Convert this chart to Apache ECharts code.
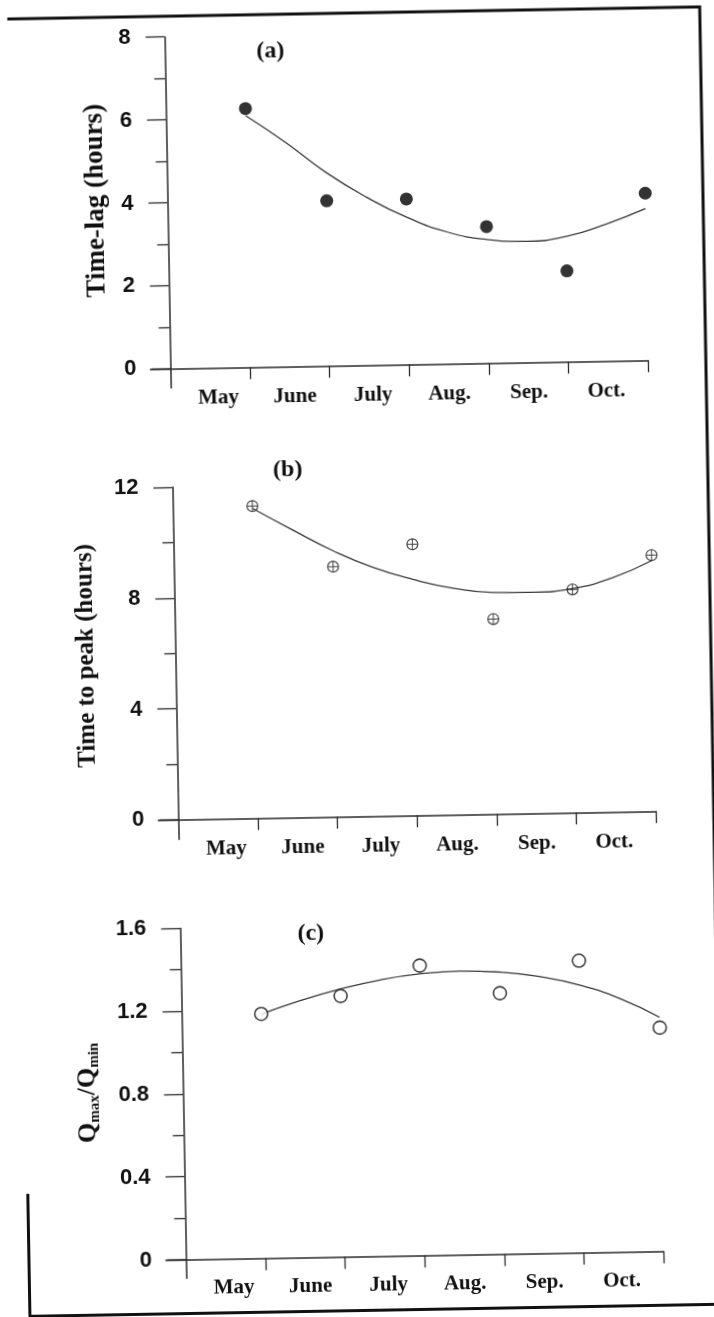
<!DOCTYPE html>
<html><head><meta charset="utf-8">
<script src="https://cdn.jsdelivr.net/npm/echarts@6/dist/echarts.min.js"></script>
<style>
html,body{margin:0;padding:0;background:#fff;overflow:hidden}
#c{width:714px;height:1317px;transform:rotate(-1deg);transform-origin:357px 658.5px;}
</style>
</head><body><div id="c"></div>
<script>
// ---- data ----
const months = ['May', 'June', 'July', 'Aug.', 'Sep.', 'Oct.'];
const monthLabelPos = [0.6, 1.56, 2.54, 3.5, 4.5, 5.47];
const monthTicks = [1, 2, 3, 4, 5, 6];
const fitX = [1, 1.5, 2, 2.5, 3, 3.5, 4, 4.5, 5, 5.5, 6];

const timeLag = [6.24, 3.98, 3.99, 3.29, 2.19, 4.03];
const timeLagFit = [6.07, 5.40, 4.66, 4.05, 3.55, 3.18, 2.98, 2.92, 3.02, 3.30, 3.66];
const timeLagTicks = [0, 2, 4, 6, 8];
const timeLagMinor = [1, 3, 5, 7];

const timeToPeak = [11.27, 9.03, 9.79, 7.04, 8.06, 9.25];
const timeToPeakFit = [11.19, 10.38, 9.61, 8.98, 8.52, 8.18, 8.00, 7.98, 8.09, 8.45, 9.05];
const timeToPeakTicks = [0, 4, 8, 12];
const timeToPeakMinor = [2, 6, 10];

const qRatio = [1.18, 1.26, 1.40, 1.26, 1.41, 1.08];
const qRatioFit = [1.179, 1.242, 1.294, 1.334, 1.360, 1.370, 1.362, 1.337, 1.293, 1.225, 1.13];
const qRatioTicks = [0, 0.4, 0.8, 1.2, 1.6];
const qRatioMinor = [0.2, 0.6, 1.0, 1.4];

// ---- styles / layout ----
const AX = '#2a2a2a';
const SANS = 'Liberation Sans';
const SERIF = 'Liberation Serif';
const GRID_LEFT = 155.5, GRID_W = 497.8;
const panels = [
  {top: 33.7, h: 351.1, min: -0.47, max: 8, ticks: timeLagTicks, minor: timeLagMinor,
   name: '{sp| }{t|Time-lag (hours)}', sp: 26, tSize: 27, gap: 38, vals: timeLag, fit: timeLagFit},
  {top: 484.1, h: 352.1, min: -0.72, max: 12, ticks: timeToPeakTicks, minor: timeToPeakMinor,
   name: '{sp| }{t|Time to peak (hours)}', sp: 18, tSize: 25, gap: 56, vals: timeToPeak, fit: timeToPeakFit},
  {top: 925.2, h: 350, min: -0.09, max: 1.6, ticks: qRatioTicks, minor: qRatioMinor,
   name: '{sp| }{q|Q}{s|max}{q|/Q}{s|min}', sp: 24, tSize: 26, gap: 61, vals: qRatio, fit: qRatioFit}
];

const plusCircle = 'path://M0,-10 A10,10 0 1 1 0,10 A10,10 0 1 1 0,-10 Z ' +
  'M0,-8.1 A8.1,8.1 0 1 0 0,8.1 A8.1,8.1 0 1 0 0,-8.1 Z ' +
  'M-8.4,-0.8 L8.4,-0.8 L8.4,0.8 L-8.4,0.8 Z M-0.8,-8.4 L0.8,-8.4 L0.8,8.4 L-0.8,8.4 Z';

const grids = [], xAxes = [], yAxes = [], series = [];
panels.forEach((p, i) => {
  grids.push({left: GRID_LEFT, width: GRID_W, top: p.top, height: p.h,
              containLabel: false, outerBoundsMode: 'none'});
  xAxes.push({
    type: 'value', gridIndex: i, min: -0.25, max: 6,
    axisLine: {show: true, onZero: true, onZeroAxisIndex: i, lineStyle: {color: AX, width: 1.5}},
    axisTick: {show: true, customValues: monthTicks, length: 12, lineStyle: {color: AX, width: 1.3}},
    axisLabel: {show: true, customValues: monthLabelPos, margin: 0,
      formatter: v => months[Math.floor(v)],
      fontFamily: SERIF, fontWeight: 'bold', fontSize: 21, color: '#111'},
    splitLine: {show: false}
  });
  const nameStyle = {
    color: '#111',
    rich: {
      sp: {width: p.sp, fontSize: 10},
      t: {fontFamily: SERIF, fontWeight: 'bold', fontSize: p.tSize, color: '#111'},
      q: {fontFamily: SERIF, fontWeight: 'bold', fontSize: p.tSize, color: '#111', lineHeight: 28},
      s: {fontFamily: SERIF, fontWeight: 'bold', fontSize: 15, color: '#111',
          verticalAlign: 'bottom', padding: [13, 0, 0, 0], lineHeight: 15}
    }
  };
  yAxes.push({
    type: 'value', gridIndex: i, min: p.min, max: p.max, position: 'left',
    name: p.name, nameLocation: 'middle', nameRotate: 90, nameGap: p.gap, nameMoveOverlap: false,
    nameTextStyle: nameStyle,
    axisLine: {show: true, onZero: true, onZeroAxisIndex: i, lineStyle: {color: AX, width: 1.5}},
    axisTick: {show: true, customValues: p.ticks, length: 19, lineStyle: {color: AX, width: 1.3}},
    axisLabel: {show: true, customValues: p.ticks, margin: 14,
      fontFamily: SANS, fontWeight: 'bold', fontSize: 22, color: '#111'},
    splitLine: {show: false}
  });
  series.push({
    type: 'line', xAxisIndex: i, yAxisIndex: i, smooth: true, showSymbol: false, silent: true,
    data: p.fit.map((v, k) => [fitX[k], v]),
    lineStyle: {color: '#3a3a3a', width: 1.3}, z: 2
  });
  const sc = {type: 'scatter', xAxisIndex: i, yAxisIndex: i, z: 3,
              data: p.vals.map((v, k) => [monthTicks[k], v])};
  if (i === 0) { sc.symbol = 'circle'; sc.symbolSize = 13; sc.itemStyle = {color: '#000'}; }
  if (i === 1) { sc.symbol = plusCircle; sc.symbolSize = 12; sc.itemStyle = {color: '#111'}; }
  if (i === 2) { sc.symbol = 'circle'; sc.symbolSize = 13;
                 sc.itemStyle = {color: '#fff', borderColor: '#111', borderWidth: 1.6}; }
  series.push(sc);
});
// minor tick axes
panels.forEach((p, i) => {
  yAxes.push({
    type: 'value', gridIndex: i, min: p.min, max: p.max, position: 'left',
    axisLine: {show: false, onZero: true, onZeroAxisIndex: i},
    axisTick: {show: true, customValues: p.minor, length: 11, lineStyle: {color: AX, width: 1.3}},
    axisLabel: {show: false}, splitLine: {show: false}
  });
});

const letters = [['(a)', 281, 49.5], ['(b)', 291, 469], ['(c)', 306, 933]];
const graphic = [{type: 'polyline', silent: true,
  shape: {points: [[18.5, 1188], [18.5, 1310.5], [711, 1310.5], [711, 13], [18.5, 13]]},
  style: {fill: 'none', stroke: '#111', lineWidth: 3}}];
letters.forEach(l => graphic.push({type: 'text', x: l[1], y: l[2], silent: true,
  style: {text: l[0], align: 'center', verticalAlign: 'middle',
          font: 'bold 24px "Liberation Serif"', fill: '#111'}}));

const chart = echarts.init(document.getElementById('c'), null, {renderer: 'canvas'});
chart.setOption({
  animation: false, backgroundColor: '#fff',
  grid: grids, xAxis: xAxes, yAxis: yAxes, series: series, graphic: graphic
});
</script>
</body></html>
